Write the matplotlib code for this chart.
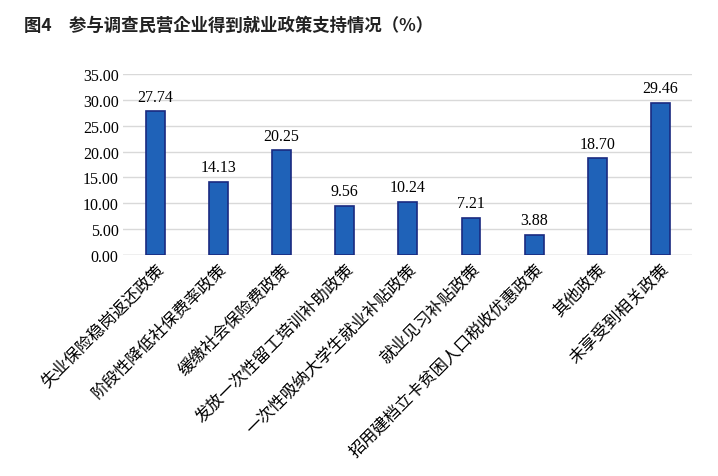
import matplotlib
matplotlib.use("Agg")
import matplotlib.pyplot as plt

categories = ["失业保险稳岗返还政策", "阶段性降低社保费率政策", "缓缴社会保险费政策",
              "发放一次性留工培训补助政策", "一次性吸纳大学生就业补贴政策", "就业见习补贴政策",
              "招用建档立卡贫困人口税收优惠政策", "其他政策", "未享受到相关政策"]
values = [27.74, 14.13, 20.25, 9.56, 10.24, 7.21, 3.88, 18.70, 29.46]
yticks = [0, 5, 10, 15, 20, 25, 30, 35]

cjk = ["Noto Sans CJK SC", "Noto Sans CJK JP", "Noto Sans CJK TC", "Noto Sans CJK KR", "DejaVu Sans"]
num = "Liberation Serif"

fig = plt.figure(figsize=(7.18, 4.77), dpi=100)
ax = fig.add_axes([0.172, 0.463, 0.792, 0.38])

x = range(len(values))
ax.bar(x, values, width=0.3, color="#1f62b8", edgecolor="#1a2a80", linewidth=1.2, zorder=3)
for i, v in zip(x, values):
    ax.text(i, v + 1.3, f"{v:.2f}", ha="center", va="bottom", fontsize=11.5, family=num)

ax.set_ylim(0, 35)
ax.set_xlim(-0.5, len(values) - 0.5)
ax.set_yticks(yticks)
ax.set_yticklabels([f"{t:.2f}" for t in yticks], family=num, fontsize=11.5)
ax.yaxis.grid(True, color="#d9d9d9", linewidth=1, zorder=0)
ax.tick_params(length=0)
for s in ax.spines.values():
    s.set_visible(False)
ax.axhline(0, color="#d0d0d0", linewidth=1, zorder=2)

ax.set_xticks(list(x))
ax.set_xticklabels(categories, rotation=45, ha="right", rotation_mode="anchor",
                   family=cjk, fontsize=12)

fig.text(0.033, 0.935, "图4　参与调查民营企业得到就业政策支持情况（%）", family=cjk,
         fontsize=12.5, fontweight="bold", color="#222222")

fig.savefig("out.png", dpi=100)
